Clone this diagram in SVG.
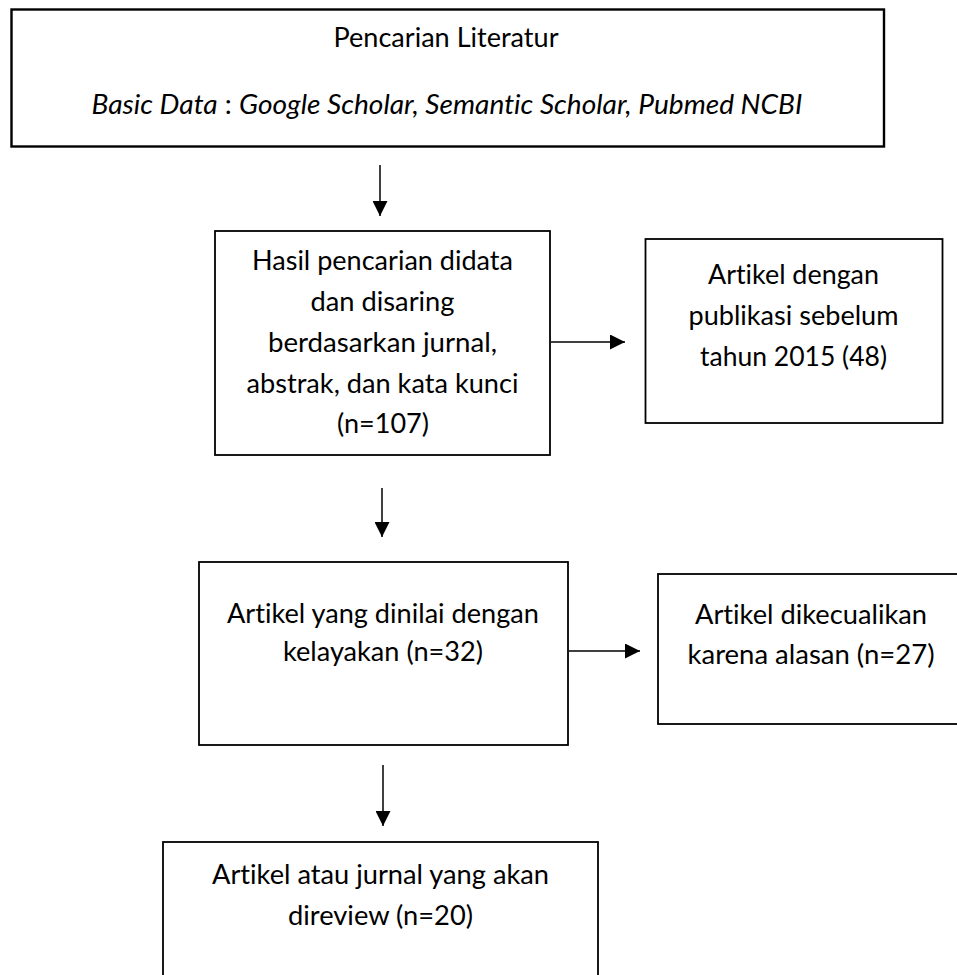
<svg xmlns="http://www.w3.org/2000/svg" width="957" height="975" viewBox="0 0 957 975">
<style>
.box{fill:#fff;stroke:#000;stroke-width:1.8}
.top{stroke-width:2.4}
text{font-family:Lato,"Liberation Sans",sans-serif;font-size:27px;fill:#000;text-anchor:middle;font-variant-ligatures:none;font-feature-settings:"liga" 0}
.it{font-style:italic}
.conn line{stroke:#000;stroke-width:1.5;marker-end:url(#ah)}
</style>
<defs>
<marker id="ah" markerUnits="userSpaceOnUse" markerWidth="15" markerHeight="15" refX="15" refY="7.5" orient="auto" viewBox="0 0 15 15">
<path d="M0,0 L15,7.5 L0,15 Z" fill="#000"/>
</marker>
</defs>
<rect width="957" height="975" fill="#fff"/>
<g id="n1">
<rect class="box top" x="11.5" y="9.5" width="872.5" height="137"/>
<text x="446" y="47" textLength="225" lengthAdjust="spacingAndGlyphs">Pencarian Literatur</text>
<text x="447" y="114" textLength="711" lengthAdjust="spacingAndGlyphs"><tspan class="it">Basic Data</tspan> : <tspan class="it">Google Scholar, Semantic Scholar, Pubmed NCBI</tspan></text>
</g>
<g id="n2">
<rect class="box" x="215" y="231" width="335" height="224"/>
<text x="382.5" y="270" textLength="261" lengthAdjust="spacingAndGlyphs">Hasil pencarian didata</text>
<text x="382.5" y="311" textLength="144" lengthAdjust="spacingAndGlyphs">dan disaring</text>
<text x="382.5" y="352" textLength="229" lengthAdjust="spacingAndGlyphs">berdasarkan jurnal,</text>
<text x="382.5" y="393" textLength="272" lengthAdjust="spacingAndGlyphs">abstrak, dan kata kunci</text>
<text x="383" y="433" textLength="92" lengthAdjust="spacingAndGlyphs">(n=107)</text>
</g>
<g id="n3">
<rect class="box" x="645.5" y="239" width="297" height="184"/>
<text x="793.5" y="284" textLength="171" lengthAdjust="spacingAndGlyphs">Artikel dengan</text>
<text x="793.5" y="325" textLength="210" lengthAdjust="spacingAndGlyphs">publikasi sebelum</text>
<text x="793.5" y="366" textLength="187" lengthAdjust="spacingAndGlyphs">tahun 2015 (48)</text>
</g>
<g id="n4">
<rect class="box" x="199" y="562" width="369" height="183"/>
<text x="383" y="623" textLength="312" lengthAdjust="spacingAndGlyphs">Artikel yang dinilai dengan</text>
<text x="383" y="661" textLength="200" lengthAdjust="spacingAndGlyphs">kelayakan (n=32)</text>
</g>
<g id="n5">
<rect class="box" x="658" y="574" width="310" height="150"/>
<text x="811" y="624" textLength="232" lengthAdjust="spacingAndGlyphs">Artikel dikecualikan</text>
<text x="811" y="664" textLength="247" lengthAdjust="spacingAndGlyphs">karena alasan (n=27)</text>
</g>
<g id="n6">
<rect class="box" x="163" y="842" width="435" height="160"/>
<text x="380.5" y="884" textLength="337" lengthAdjust="spacingAndGlyphs">Artikel atau jurnal yang akan</text>
<text x="380.5" y="925" textLength="185" lengthAdjust="spacingAndGlyphs">direview (n=20)</text>
</g>
<g id="connectors" class="conn">
<line x1="380" y1="165" x2="380" y2="216"/>
<line x1="551" y1="342" x2="625" y2="342"/>
<line x1="382" y1="488" x2="382" y2="537"/>
<line x1="569" y1="651" x2="640" y2="651"/>
<line x1="383" y1="765" x2="383" y2="826"/>
</g>
</svg>
